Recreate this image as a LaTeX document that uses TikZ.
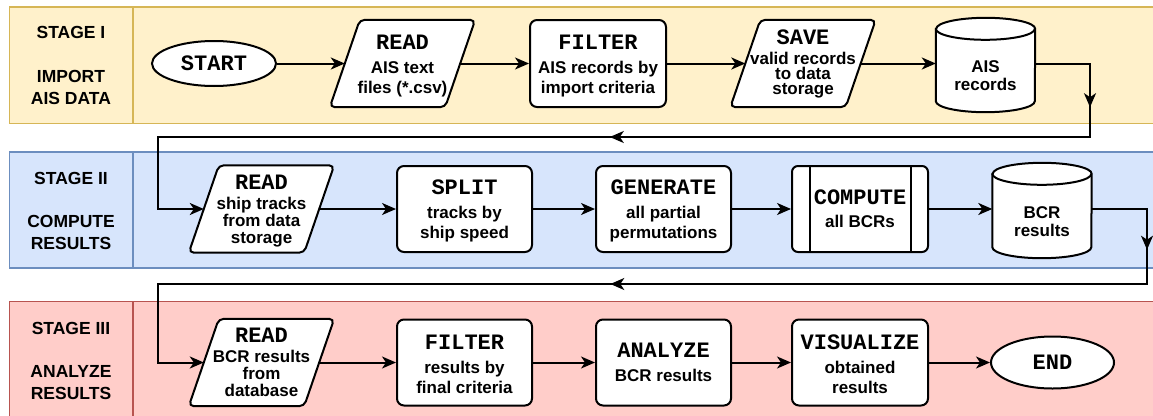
\documentclass[tikz,border=0pt]{standalone}
\usepackage{fontspec}
\setmainfont{Liberation Sans}
\newfontfamily\kwfont{Liberation Mono}
\usetikzlibrary{arrows.meta,calc,shapes.geometric,decorations.markings}
\pgfdeclarelayer{bg}\pgfdeclarelayer{mid}\pgfsetlayers{bg,mid,main}
\definecolor{yfill}{HTML}{FFF1CB}\definecolor{ydraw}{HTML}{D6B656}
\definecolor{bfill}{HTML}{D7E5FC}\definecolor{bdraw}{HTML}{6C8EBF}
\definecolor{rfill}{HTML}{FFCDC9}\definecolor{rdraw}{HTML}{B85450}
\newcommand\kwd[1]{{\kwfont\fontsize{22}{20}\selectfont\bfseries #1}}
\newcommand\kwh[1]{{\kwfont\fontsize{22}{20}\selectfont\bfseries\rule{0pt}{18.6pt}#1}}
\newcommand\drawpara[1]{\draw[line width=2pt,fill=white,rounded corners=5pt] (#1.west) -- ($(#1.north west)+(15,0)$) -- ($(#1.north east)+(15,0)$) -- ($(#1.south east)+(-15,0)$) -- ($(#1.south west)+(-15,0)$) -- cycle;}
\newcommand\drawcyl[1]{\draw[line width=2pt,fill=white] ($(#1.north west)+(0,-11)$) -- ($(#1.south west)+(0,-11)$) arc[start angle=180,end angle=360,x radius=49.5pt,y radius=11pt] -- ($(#1.north east)+(0,-11)$) arc[start angle=0,end angle=180,x radius=49.5pt,y radius=11pt] -- cycle;
\draw[line width=2pt] ($(#1.north west)+(0,-11)$) arc[start angle=180,end angle=360,x radius=49.5pt,y radius=11pt];}
\tikzset{mytip/.tip={Stealth[length=14pt,width=12pt,inset=4pt]}}
\begin{document}
\begin{tikzpicture}[x=1pt,y=-1pt,
  base/.style={font=\fontsize{17}{20}\selectfont\bfseries,align=center,text=black,inner sep=0pt},
  tight/.style={font=\fontsize{17}{17}\selectfont\bfseries},
  box/.style={base,draw,line width=2pt,fill=white,rounded corners=7pt,minimum width=135pt,minimum height=86pt},
  iobox/.style={base,minimum width=115pt,minimum height=87pt},
  cylbox/.style={base,font=\fontsize{17}{18}\selectfont\bfseries,minimum width=99pt,minimum height=72pt},
  term/.style={base,ellipse,draw,line width=2pt,fill=white},
  lbl/.style={font=\fontsize{17.5}{22}\selectfont\bfseries,align=center,inner sep=0pt},
  band/.style={line width=1.6pt},
  flow/.style={line width=2pt,-mytip}
]
\useasboundingbox (0,0) rectangle (1153,415);
% bands
\begin{pgfonlayer}{bg}
\draw[band,fill=yfill,draw=ydraw] (9.5,7) rectangle (1170,123.5);
\draw[band,draw=ydraw] (133,7) -- (133,123.5);
\draw[band,fill=bfill,draw=bdraw] (9.5,152) rectangle (1170,268);
\draw[band,draw=bdraw] (133,152) -- (133,268);
\draw[band,fill=rfill,draw=rdraw] (9.5,301.5) rectangle (1170,440);
\draw[band,draw=rdraw] (133,301.5) -- (133,440);
\end{pgfonlayer}
% stage labels
\node[lbl] (s1t) at (71,32) {STAGE I};
\node[lbl] (s1n) at (71,87) {IMPORT\\AIS DATA};
\node[lbl] (s2t) at (71,178) {STAGE II};
\node[lbl] (s2n) at (71,232.5) {COMPUTE\\RESULTS};
\node[lbl] (s3t) at (71,328) {STAGE III};
\node[lbl] (s3n) at (71,382.5) {ANALYZE\\RESULTS};
% stage I
\node[term,minimum width=124pt,minimum height=45pt] (start) at (214,63.5) {\kwd{START}};
\node[iobox] (read1) at (402.5,63.5) {\kwh{READ}\\[4pt]AIS text\\files (*.csv)};
\node[box,minimum width=136pt,minimum height=87pt] (filter1) at (598,63.5) {\kwh{FILTER}\\[4pt]AIS records by\\import criteria};
\node[iobox,font=\fontsize{17}{15}\selectfont\bfseries] (save) at (803,63.5) {\kwd{SAVE}\\[5pt]valid records\\to data\\storage};
\node[cylbox] (ais) at (985.5,76) {AIS\\records};
% stage II
\node[iobox,tight] (read2) at (261.5,209) {\kwh{READ}\\[3pt]ship tracks\\from data\\storage};
\node[box] (split) at (464.5,209) {\kwh{SPLIT}\\[4pt]tracks by\\ship speed};
\node[box] (gen) at (663.5,209) {\kwh{GENERATE}\\[4pt]all partial\\permutations};
\node[box,minimum width=136pt,rounded corners=6pt] (comp) at (860,209) {\kwd{COMPUTE}\\[3pt]all BCRs};
\node[cylbox,minimum height=73pt] (bcr) at (1042,221.5) {BCR\\results};
% stage III
\node[iobox,tight] (read3) at (261.5,362.5) {\kwd{READ}\\[3pt]BCR results\\from\\database};
\node[box] (filter3) at (464.5,362.5) {\kwh{FILTER}\\[4pt]results by\\final criteria};
\node[box] (analyze) at (663.5,362.5) {\kwd{ANALYZE}\\[4pt]BCR results};
\node[box,minimum width=136pt] (vis) at (860,362.5) {\kwh{VISUALIZE}\\[4pt]obtained\\results};
\node[term,minimum width=123pt,minimum height=52pt] (end) at (1052.5,362.5) {\kwd{END}};
% shapes drawn under the texts
\begin{pgfonlayer}{mid}
\drawpara{read1}\drawpara{save}\drawpara{read2}\drawpara{read3}
\drawcyl{ais}\drawcyl{bcr}
\end{pgfonlayer}
\draw[line width=2pt] ($(comp.north west)+(19,0)$) -- ($(comp.south west)+(19,0)$);
\draw[line width=2pt] ($(comp.north east)+(-18,0)$) -- ($(comp.south east)+(-18,0)$);
% wrap points
\coordinate (w1) at (1090,137);
\coordinate (w2) at (158,137);
\coordinate (w3) at (1147,284);
\coordinate (w4) at (158,284);
% connectors
\draw[flow] (start.east) -- (read1.west);
\draw[flow] (read1.east) -- (filter1.west);
\draw[flow] (filter1.east) -- (save.west);
\draw[flow] (save.east) -- (save.east -| ais.west);
\draw[flow,postaction={decorate},decoration={markings,
  mark=at position 98.5pt with {\arrow{mytip}},
  mark=at position 608.5pt with {\arrow{mytip}}}]
  (ais.east |- save.east) -| (w1) -- (w2) |- (read2.west);
\draw[flow] (read2.east) -- (split.west);
\draw[flow] (split.east) -- (gen.west);
\draw[flow] (gen.east) -- (comp.west);
\draw[flow] (comp.east) -- (comp.east -| bcr.west);
\draw[flow,postaction={decorate},decoration={markings,
  mark=at position 96pt with {\arrow{mytip}},
  mark=at position 667pt with {\arrow{mytip}}}]
  (bcr.east |- comp.east) -| (w3) -- (w4) |- (read3.west);
\draw[flow] (read3.east) -- (filter3.west);
\draw[flow] (filter3.east) -- (analyze.west);
\draw[flow] (analyze.east) -- (vis.west);
\draw[flow] (vis.east) -- (end.west);
\end{tikzpicture}
\end{document}
